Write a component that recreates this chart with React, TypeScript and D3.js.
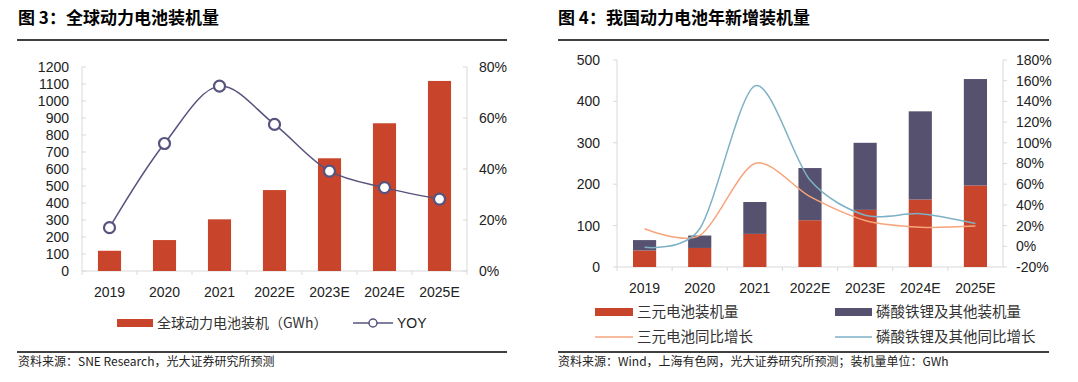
import React from "react";
import * as d3 from "d3";

const years = ["2019", "2020", "2021", "2022E", "2023E", "2024E", "2025E"];
const globalInstall = [119, 182, 304, 476, 663, 869, 1118];
const globalYoy = [0.17, 0.5, 0.725, 0.575, 0.392, 0.327, 0.282];
const leftTicks = [0, 100, 200, 300, 400, 500, 600, 700, 800, 900, 1000, 1100, 1200];
const leftPctTicks = [0, 0.2, 0.4, 0.6, 0.8];

const ternary = [40, 46, 80, 113, 138, 163, 197];
const lfpOther = [25, 30, 77, 126, 162, 213, 257];
const ternaryYoy = [0.17, 0.105, 0.8, 0.48, 0.25, 0.185, 0.195];
const lfpYoy = [-0.01, 0.17, 1.55, 0.64, 0.3, 0.315, 0.22];
const rightTicks = [0, 100, 200, 300, 400, 500];
const rightPctTicks = [-0.2, 0, 0.2, 0.4, 0.6, 0.8, 1.0, 1.2, 1.4, 1.6, 1.8];

const RED = "#C8442A";
const PURPLE = "#56516F";
const YOYC = "#56547E";
const ORANGE = "#F7A57C";
const BLUE = "#7DB1C6";
const AXIS = "#D9D9D9";
const FONT = "'Liberation Sans', Arial, 'Noto Sans CJK SC', sans-serif";
const CJK = "'Noto Sans CJK SC', 'Liberation Sans', sans-serif";

const pct = (v: number) => `${Math.round(v * 100)}%`;

function LeftChart() {
  const x = d3.scaleBand<string>().domain(years).range([82, 467]).paddingInner(0.58).paddingOuter(0.29);
  const y = d3.scaleLinear().domain([0, 1200]).range([271, 67]);
  const yr = d3.scaleLinear().domain([0, 0.8]).range([271, 67]);
  const cx = (d: string) => (x(d) as number) + x.bandwidth() / 2;
  const line = d3
    .line<number>()
    .x((_, i) => cx(years[i]))
    .y((d) => yr(d))
    .curve(d3.curveCatmullRom.alpha(0.5));
  const step = x.step();
  return (
    <g>
      <text x={18} y={24} fontFamily={CJK} fontWeight={700} fontSize={17} fill="#000">
        图 3：全球动力电池装机量
      </text>
      <line x1={17} x2={507} y1={40} y2={40} stroke="#000" strokeWidth={1.3} />
      <line x1={82} x2={82} y1={67} y2={271} stroke={AXIS} />
      <line x1={467} x2={467} y1={67} y2={271} stroke={AXIS} />
      <line x1={82} x2={467} y1={271} y2={271} stroke={AXIS} />
      {leftTicks.map((t) => (
        <g key={t}>
          <line x1={82} x2={86} y1={y(t)} y2={y(t)} stroke={AXIS} />
          <text x={69} y={y(t)} dy="0.35em" textAnchor="end" fontFamily={FONT} fontSize={14} fill="#222">
            {t}
          </text>
        </g>
      ))}
      {leftPctTicks.map((t) => (
        <g key={t}>
          <line x1={463} x2={467} y1={yr(t)} y2={yr(t)} stroke={AXIS} />
          <text x={479} y={yr(t)} dy="0.35em" fontFamily={FONT} fontSize={14} fill="#222">
            {pct(t)}
          </text>
        </g>
      ))}
      {years.map((d, i) => (
        <line key={d} x1={82 + step * i} x2={82 + step * i} y1={271} y2={275} stroke={AXIS} />
      ))}
      <line x1={467} x2={467} y1={271} y2={275} stroke={AXIS} />
      {years.map((d, i) => (
        <rect key={d} x={x(d)} width={x.bandwidth()} y={y(globalInstall[i])} height={271 - y(globalInstall[i])} fill={RED} />
      ))}
      <path d={line(globalYoy) || ""} fill="none" stroke={YOYC} strokeWidth={1.5} />
      {years.map((d, i) => (
        <circle key={d} cx={cx(d)} cy={yr(globalYoy[i])} r={5.5} fill="#fff" stroke={YOYC} strokeWidth={2.2} />
      ))}
      {years.map((d) => (
        <text key={d} x={cx(d)} y={292} dy="0.35em" textAnchor="middle" fontFamily={FONT} fontSize={14} fill="#222">
          {d}
        </text>
      ))}
      <rect x={117} y={319} width={36} height={8} fill={RED} />
      <text x={157} y={323} dy="0.35em" fontFamily={CJK} fontSize={14} fill="#333">
        全球动力电池装机（GWh）
      </text>
      <line x1={353} x2={393} y1={323} y2={323} stroke={YOYC} strokeWidth={1.5} />
      <circle cx={373} cy={323} r={4} fill="#fff" stroke={YOYC} strokeWidth={1.5} />
      <text x={397} y={323} dy="0.35em" fontFamily={FONT} fontSize={14} fill="#222">
        YOY
      </text>
      <line x1={17} x2={507} y1={352} y2={352} stroke="#000" strokeWidth={1.3} />
      <text x={18} y={362} dy="0.35em" fontFamily={CJK} fontSize={12} fill="#222">
        资料来源：SNE Research，光大证券研究所预测
      </text>
    </g>
  );
}

function RightChart() {
  const x = d3.scaleBand<string>().domain(years).range([617, 1003]).paddingInner(0.58).paddingOuter(0.29);
  const y = d3.scaleLinear().domain([0, 500]).range([267, 60]);
  const yr = d3.scaleLinear().domain([-0.2, 1.8]).range([267, 60]);
  const cx = (d: string) => (x(d) as number) + x.bandwidth() / 2;
  const line = d3
    .line<number>()
    .x((_, i) => cx(years[i]))
    .y((d) => yr(d))
    .curve(d3.curveCardinal.tension(0.15));
  const step = x.step();
  return (
    <g>
      <text x={558} y={24} fontFamily={CJK} fontWeight={700} fontSize={17} fill="#000">
        图 4：我国动力电池年新增装机量
      </text>
      <line x1={558} x2={1049} y1={40} y2={40} stroke="#000" strokeWidth={1.3} />
      <line x1={617} x2={617} y1={60} y2={267} stroke={AXIS} />
      <line x1={1003} x2={1003} y1={60} y2={267} stroke={AXIS} />
      <line x1={617} x2={1003} y1={267} y2={267} stroke={AXIS} />
      {rightTicks.map((t) => (
        <g key={t}>
          <line x1={613} x2={617} y1={y(t)} y2={y(t)} stroke={AXIS} />
          <text x={600} y={y(t)} dy="0.35em" textAnchor="end" fontFamily={FONT} fontSize={14} fill="#222">
            {t}
          </text>
        </g>
      ))}
      {rightPctTicks.map((t) => (
        <g key={t}>
          <line x1={1003} x2={1007} y1={yr(t)} y2={yr(t)} stroke={AXIS} />
          <text x={1016} y={yr(t)} dy="0.35em" fontFamily={FONT} fontSize={14} fill="#222">
            {pct(t)}
          </text>
        </g>
      ))}
      {years.map((d, i) => (
        <line key={d} x1={617 + step * i} x2={617 + step * i} y1={267} y2={271} stroke={AXIS} />
      ))}
      {years.map((d, i) => (
        <g key={d}>
          <rect x={x(d)} width={x.bandwidth()} y={y(ternary[i])} height={267 - y(ternary[i])} fill={RED} />
          <rect
            x={x(d)}
            width={x.bandwidth()}
            y={y(ternary[i] + lfpOther[i])}
            height={y(ternary[i]) - y(ternary[i] + lfpOther[i])}
            fill={PURPLE}
          />
        </g>
      ))}
      <path d={line(ternaryYoy) || ""} fill="none" stroke={ORANGE} strokeWidth={1.5} />
      <path d={line(lfpYoy) || ""} fill="none" stroke={BLUE} strokeWidth={1.5} />
      {years.map((d) => (
        <text key={d} x={cx(d)} y={288} dy="0.35em" textAnchor="middle" fontFamily={FONT} fontSize={14} fill="#222">
          {d}
        </text>
      ))}
      <rect x={595} y={308} width={38} height={8} fill={RED} />
      <text x={637} y={312} dy="0.35em" fontFamily={CJK} fontSize={14.5} fill="#333">
        三元电池装机量
      </text>
      <rect x={835} y={308} width={37} height={8} fill={PURPLE} />
      <text x={876} y={312} dy="0.35em" fontFamily={CJK} fontSize={14.5} fill="#333">
        磷酸铁锂及其他装机量
      </text>
      <line x1={595} x2={633} y1={337} y2={337} stroke={ORANGE} strokeWidth={1.5} />
      <text x={637} y={337} dy="0.35em" fontFamily={CJK} fontSize={14.5} fill="#333">
        三元电池同比增长
      </text>
      <line x1={835} x2={872} y1={337} y2={337} stroke={BLUE} strokeWidth={1.5} />
      <text x={876} y={337} dy="0.35em" fontFamily={CJK} fontSize={14.5} fill="#333">
        磷酸铁锂及其他同比增长
      </text>
      <line x1={558} x2={1049} y1={352} y2={352} stroke="#000" strokeWidth={1.3} />
      <text x={558} y={362} dy="0.35em" fontFamily={CJK} fontSize={12} fill="#222">
        资料来源：Wind，上海有色网，光大证券研究所预测；装机量单位：GWh
      </text>
    </g>
  );
}

export default function App() {
  return (
    <svg width={1078} height={382} style={{ position: "absolute", left: 0, top: 0, background: "#fff" }}>
      <rect width={1078} height={382} fill="#fff" />
      <LeftChart />
      <RightChart />
    </svg>
  );
}
